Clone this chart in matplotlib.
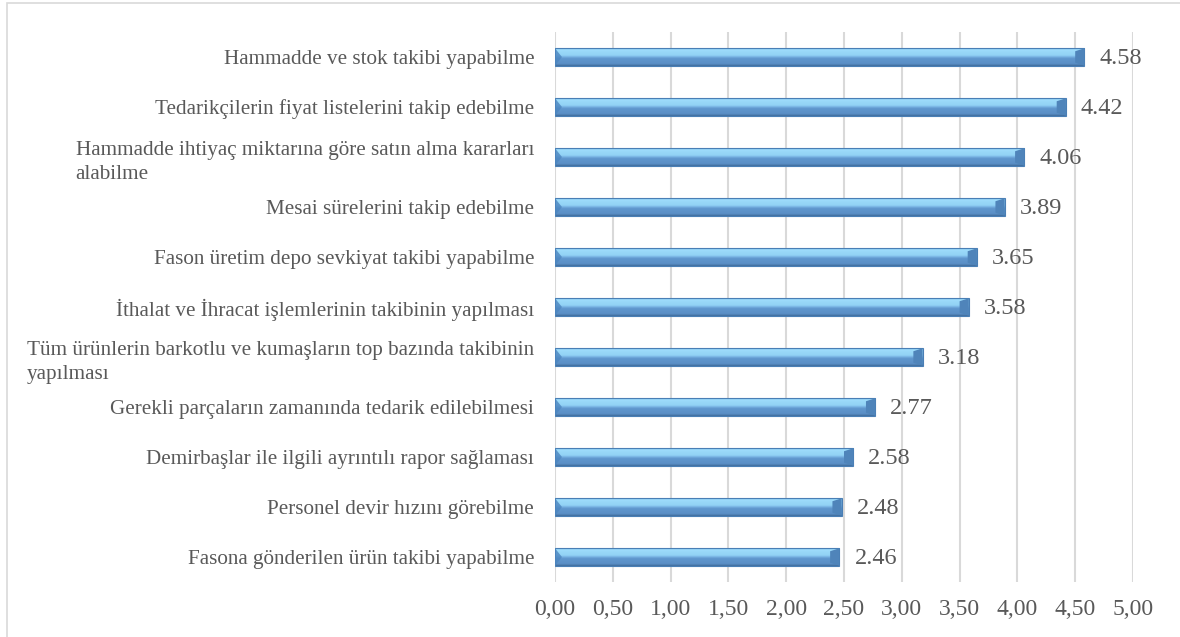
import numpy as np
import matplotlib
matplotlib.use("Agg")
import matplotlib.pyplot as plt
from matplotlib.patches import Polygon, Rectangle
from matplotlib.colors import LinearSegmentedColormap
from matplotlib.ticker import FuncFormatter, MultipleLocator

categories = [
    "Hammadde ve stok takibi yapabilme",
    "Tedarikçilerin fiyat listelerini takip edebilme",
    "Hammadde ihtiyaç miktarına göre satın alma kararları\nalabilme",
    "Mesai sürelerini takip edebilme",
    "Fason üretim depo sevkiyat takibi yapabilme",
    "İthalat ve İhracat işlemlerinin takibinin yapılması",
    "Tüm ürünlerin barkotlu ve kumaşların top bazında takibinin\nyapılması",
    "Gerekli parçaların zamanında tedarik edilebilmesi",
    "Demirbaşlar ile ilgili ayrıntılı rapor sağlaması",
    "Personel devir hızını görebilme",
    "Fasona gönderilen ürün takibi yapabilme",
]
values = [4.58, 4.42, 4.06, 3.89, 3.65, 3.58, 3.18, 2.77, 2.58, 2.48, 2.46]

plt.rcParams["font.family"] = ["Liberation Serif", "DejaVu Serif"]
TEXT = "#595959"

W, H = 1180, 637
fig = plt.figure(figsize=(W / 100, H / 100), dpi=100)
ax = fig.add_axes([555 / W, 1 - 582 / H, (1133 - 555) / W, (582 - 32) / H])

# chart frame
fig.add_artist(Rectangle((7 / W, -0.1), 1.2, 1 - 3 / H + 0.1,
                         transform=fig.transFigure, fill=False,
                         edgecolor="#d9d9d9", linewidth=1.2))

# vertical bevel shading of each bar, top to bottom
bar_cmap = LinearSegmentedColormap.from_list("bevel", [
    (0.00, "#6fb0e2"), (0.08, "#9edcfb"), (0.40, "#92d2f5"),
    (0.50, "#74aee0"), (0.58, "#5f96cd"), (0.88, "#5a8fc6"),
    (1.00, "#3f6c9c"),
])
grad = np.linspace(0, 1, 64).reshape(-1, 1)

n = len(categories)
ypos = np.arange(n)[::-1]
h = 0.35

for y, v in zip(ypos, values):
    ax.imshow(grad, cmap=bar_cmap, extent=[0, v, y - h / 2, y + h / 2],
              aspect="auto", origin="upper", zorder=3, interpolation="bilinear")
    ax.add_patch(Rectangle((0, y - h / 2), v, h, fill=False,
                           edgecolor="#4a7fb5", linewidth=0.8, zorder=4))
    w = 0.08
    # right end facet
    ax.add_patch(Polygon([(v - w, y + h / 2 - 0.06), (v, y + h / 2),
                          (v, y - h / 2), (v - w, y - h / 2 + 0.06)],
                         closed=True, facecolor="#4f84ba", edgecolor="none",
                         zorder=4))
    # left end facet
    ax.add_patch(Polygon([(0, y + h / 2), (0.06, y + 0.0),
                          (0, y - h / 2)],
                         closed=True, facecolor="#4d86c0", edgecolor="none",
                         zorder=4, alpha=0.8))
    ax.text(v + 0.13, y - 0.04, f"{v:.2f}", va="center", ha="left",
            fontsize=17.5, color=TEXT)

ax.set_xlim(0, 5)
ax.set_ylim(-0.5, n - 0.5)
ax.set_yticks(ypos)
ax.set_yticklabels(categories, fontsize=15.2, color=TEXT,
                   multialignment="left", linespacing=1.4)
ax.xaxis.set_major_locator(MultipleLocator(0.5))
ax.xaxis.set_major_formatter(FuncFormatter(lambda x, _: f"{x:.2f}".replace(".", ",")))
ax.tick_params(axis="x", labelsize=17, colors=TEXT, length=0, pad=12)
ax.tick_params(axis="y", length=0, pad=15)
ax.grid(axis="x", color="#d9d9d9", linewidth=1.5, zorder=0)
ax.set_axisbelow(True)
for s in ax.spines.values():
    s.set_visible(False)

fig.savefig("out.png", dpi=100)
